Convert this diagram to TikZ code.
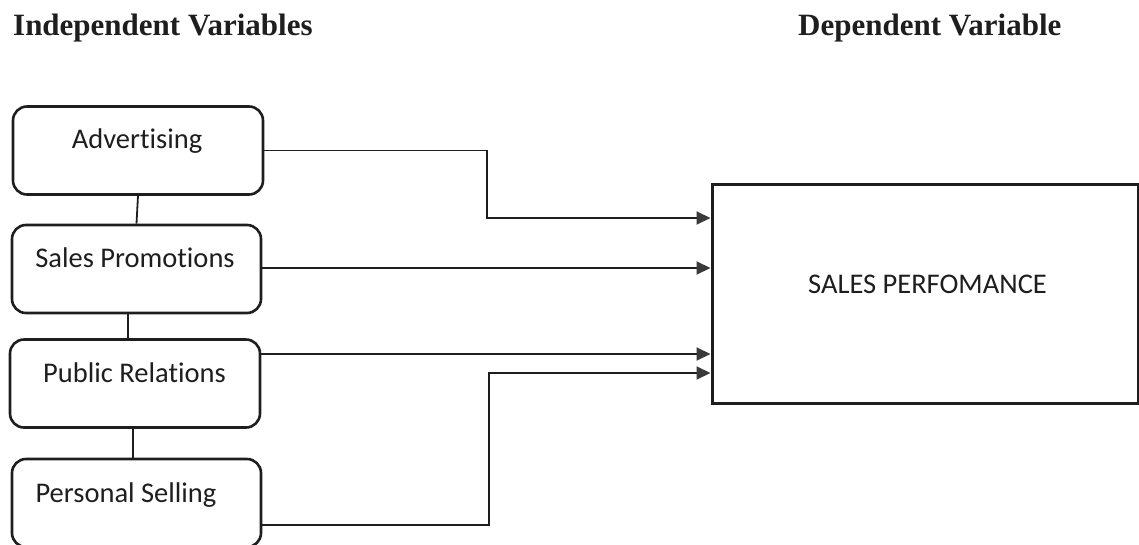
\documentclass[tikz,border=0pt]{standalone}
\usepackage{fontspec}
\setmainfont{Liberation Serif}
\newfontfamily\boxfont[Ligatures=NoCommon]{Carlito}
\usetikzlibrary{arrows.meta,calc}
\definecolor{tipgray}{HTML}{3A3A3A}
\definecolor{inkblack}{HTML}{1E1E1E}
\tikzset{
  ibox/.style={draw=inkblack, line width=2.6pt, rounded corners=14pt, inner sep=0pt, minimum width=250pt, minimum height=88pt},
  dbox/.style={draw=inkblack, line width=3pt, inner sep=0pt, minimum width=426pt, minimum height=219pt},
  btext/.style={font=\boxfont\fontsize{28.5}{32}\selectfont, text=inkblack, anchor=base, inner sep=0pt},
  htext/.style={font=\bfseries\fontsize{31}{36}\selectfont, text=inkblack, anchor=base west, inner sep=0pt},
  link/.style={draw=inkblack, line width=1.8pt},
  arr/.style={draw=inkblack, line width=1.9pt, -{Triangle[length=14pt,width=13pt,fill=tipgray,color=tipgray]}}
}
\begin{document}
\begin{tikzpicture}[x=1pt,y=-1pt]
\useasboundingbox (0,0) rectangle (1139,544);
% headers
\node[htext] (hind) at (13,35) {Independent Variables};
\node[htext] (hdep) at (798,35) {Dependent Variable};
% left boxes
\node[ibox] (adv) at (138,150.5) {};
\node[ibox, minimum width=249pt] (sp) at (136.5,269) {};
\node[ibox] (pr) at (135,383.5) {};
\node[ibox, minimum width=249pt] (ps) at (136.5,503) {};
\node[btext] (tadv) at (137,148) {Advertising};
\node[btext] (tsp) at (135,267) {Sales Promotions};
\node[btext] (tpr) at (134.5,382) {Public Relations};
\node[btext] (tps) at (126,502) {Personal Selling};
% right box
\node[dbox] (dep) at (925,293.5) {};
\node[btext] (tdep) at (927.5,293) {SALES PERFOMANCE};
% vertical links
\draw[link] (adv.south) -- (sp.north);
\draw[link] ([xshift=-8.5pt]sp.south) -- ([xshift=-7pt]pr.north);
\draw[link] ([xshift=-2pt]pr.south) -- ([xshift=-3.5pt]ps.north);
% arrow levels
\coordinate (y1) at (0,218);
\coordinate (y2) at (0,268);
\coordinate (y3) at (0,354);
\coordinate (y4) at (0,373);
\coordinate (y5) at (0,525);
\coordinate (xa) at (487,0);
\coordinate (xb) at (489,0);
% arrows
\draw[arr] (adv.east) -- (xa |- adv.east) -- (xa |- y1) -- (dep.west |- y1);
\draw[arr] (sp.east |- y2) -- (dep.west |- y2);
\draw[arr] (pr.east |- y3) -- (dep.west |- y3);
\draw[arr] (ps.east |- y5) -- (xb |- y5) -- (xb |- y4) -- (dep.west |- y4);
\end{tikzpicture}
\end{document}
